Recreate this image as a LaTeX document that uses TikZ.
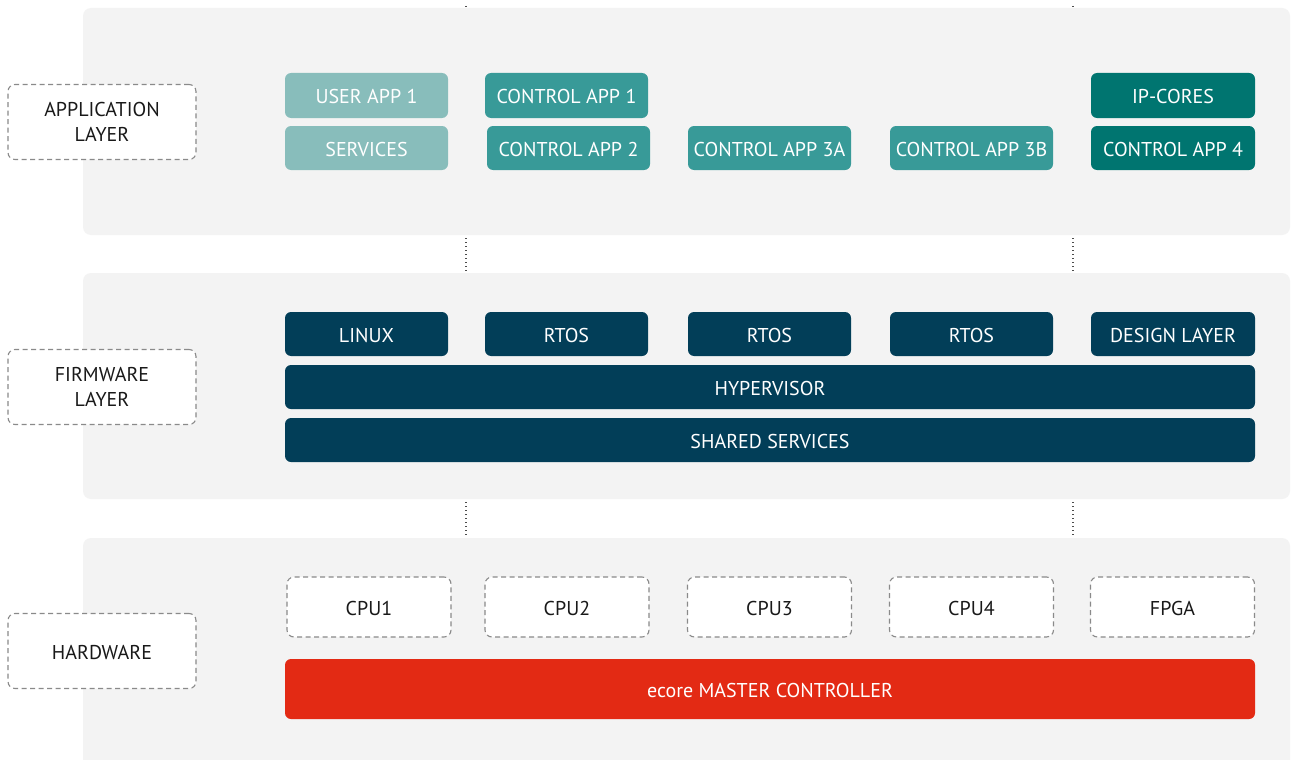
\documentclass[tikz,border=0pt]{standalone}
\usepackage{fontspec}
\setmainfont{PT Sans}
\definecolor{panelgray}{HTML}{F3F3F3}
\definecolor{lightteal}{HTML}{88BDBB}
\definecolor{midteal}{HTML}{389A98}
\definecolor{darkteal}{HTML}{007570}
\definecolor{navy}{HTML}{023E58}
\definecolor{ecorered}{HTML}{E32A14}
\definecolor{dashgray}{HTML}{8A8A8A}
\begin{document}
\begin{tikzpicture}[x=1pt,y=-1pt,
  panelbox/.style={fill=panelgray, rounded corners=8pt},
  layerlbl/.style={draw=dashgray, line width=1.1pt, dash pattern=on 5pt off 3.5pt, rounded corners=7pt, fill=white,
    minimum width=188pt, minimum height=75pt, inner sep=0pt, align=center, text=black!90,
    font=\fontsize{20}{25}\selectfont},
  blk/.style={rounded corners=6pt, text=white, minimum width=163pt, minimum height=45pt, inner sep=0pt,
    text height=16.5pt, text depth=0pt, font=\fontsize{20}{24}\selectfont},
  usr/.style={blk, fill=lightteal},
  ctl/.style={blk, fill=midteal},
  ipc/.style={blk, fill=darkteal, minimum width=164pt},
  fw/.style={blk, fill=navy, minimum height=44pt},
  wide/.style={blk, fill=navy, minimum width=970pt, minimum height=44pt},
  hw/.style={draw=dashgray, line width=1.1pt, dash pattern=on 5pt off 3.5pt, rounded corners=7pt, fill=white,
    minimum width=164pt, minimum height=60pt, inner sep=0pt, text=black!90, text height=16.5pt, text depth=0pt,
    font=\fontsize{20}{24}\selectfont},
  master/.style={blk, fill=ecorered, minimum width=970pt, minimum height=60pt},
  dotline/.style={draw=black!70, line width=1.2pt, dash pattern=on 1.2pt off 2.8pt}
]
\useasboundingbox (0,0) rectangle (1291,760);
\clip (0,0) rectangle (1291,760);
\fill[white] (0,0) rectangle (1291,760);

% dotted guides
\coordinate (d1t) at (466,6);
\coordinate (d1b) at (466,538);
\coordinate (d2t) at (1073,6);
\coordinate (d2b) at (1073,538);
\draw[dotline] (d1t) -- (d1b);
\draw[dotline] (d2t) -- (d2b);

% panels
\fill[panelbox] (83,8) rectangle (1290,235);
\fill[panelbox] (83,273) rectangle (1290,499);
\fill[panelbox] (83,538) rectangle (1290,780);

% layer labels
\node[layerlbl] (lapp) at (102,122) {APPLICATION\\LAYER};
\node[layerlbl] (lfw) at (102,387) {FIRMWARE\\LAYER};
\node[layerlbl, text height=16.5pt, text depth=0pt] (lhw) at (102,651) {HARDWARE};

% application layer
\node[usr] (ua1) at (366.5,95.5) {USER APP 1};
\node[usr, minimum height=44pt] (srv) at (366.5,148) {SERVICES};
\node[ctl] (ca1) at (566.5,95.5) {CONTROL APP 1};
\node[ctl, minimum height=44pt] (ca2) at (568.5,148) {CONTROL APP 2};
\node[ctl, minimum height=44pt] (ca3a) at (769.5,148) {CONTROL APP 3A};
\node[ctl, minimum height=44pt] (ca3b) at (971.5,148) {CONTROL APP 3B};
\node[ipc] (ipc) at (1173,95.5) {IP-CORES};
\node[ipc, minimum height=44pt] (ca4) at (1173,148) {CONTROL APP 4};

% firmware layer
\node[fw] (linux) at (366.5,334) {LINUX};
\node[fw] (rtos1) at (566.5,334) {RTOS};
\node[fw] (rtos2) at (769.5,334) {RTOS};
\node[fw] (rtos3) at (971.5,334) {RTOS};
\node[fw, minimum width=164pt] (dsl) at (1173,334) {DESIGN LAYER};
\node[wide] (hyp) at (770,387) {HYPERVISOR};
\node[wide] (shs) at (770,440) {SHARED SERVICES};

% hardware layer
\node[hw] (cpu1) at (369,607) {CPU1};
\node[hw] (cpu2) at (567,607) {CPU2};
\node[hw] (cpu3) at (769.5,607) {CPU3};
\node[hw] (cpu4) at (971.5,607) {CPU4};
\node[hw] (fpga) at (1172.5,607) {FPGA};
\node[master] (emc) at (770,689) {ecore MASTER CONTROLLER};
\end{tikzpicture}
\end{document}
